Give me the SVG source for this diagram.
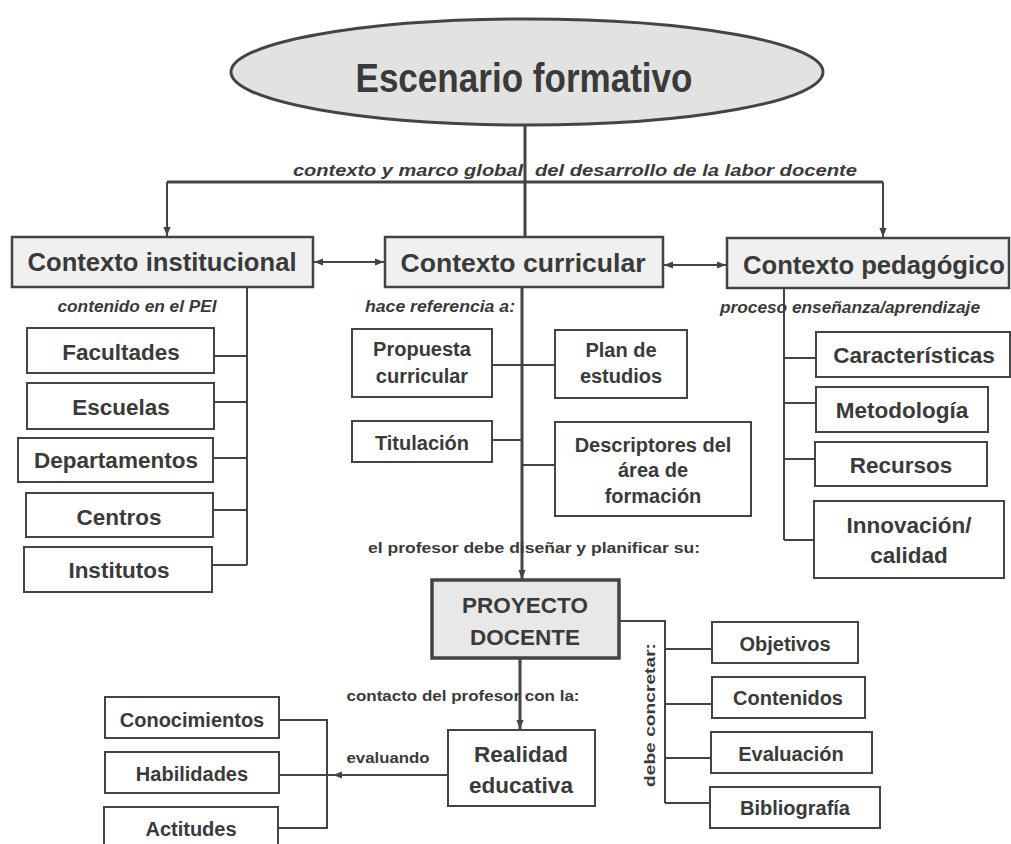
<svg xmlns="http://www.w3.org/2000/svg" width="1011" height="844" viewBox="0 0 1011 844">
<style>
text{font-family:"Liberation Sans",Arial,sans-serif;font-weight:bold;fill:#3a3a3a;text-anchor:middle}
.lbl{font-style:italic;font-size:16px}
.up{font-size:15px}
.box{fill:#ffffff;stroke:#444;stroke-width:2}
.ctx{fill:#f0f0f0;stroke:#444;stroke-width:2.5}
.ctx text{font-size:25px}
.b23{font-size:22.5px}
.b20{font-size:20px}
.ln{fill:none;stroke:#444;stroke-width:2}
.ln3{fill:none;stroke:#444;stroke-width:3}
</style>
<defs>
<marker id="ah" viewBox="0 0 10 10" refX="10" refY="5" markerWidth="9" markerHeight="9" markerUnits="userSpaceOnUse" orient="auto-start-reverse">
<path d="M0,1 L10,5 L0,9 Z" fill="#444"/>
</marker>
</defs>
<rect width="1011" height="844" fill="#ffffff"/>

<g id="connectors">
<path class="ln3" d="M525,126 V237"/>
<path class="ln3" d="M167,182 H883"/>
<path class="ln" d="M167,182 V236" marker-end="url(#ah)"/>
<path class="ln" d="M883,182 V237" marker-end="url(#ah)"/>
<path class="ln" d="M314,262 H384" marker-start="url(#ah)" marker-end="url(#ah)"/>
<path class="ln" d="M664,265 H726" marker-start="url(#ah)" marker-end="url(#ah)"/>
<path class="ln" d="M247,287 V565 M214,356 H247 M214,402 H247 M213,458 H247 M213,510 H247 M212,565 H247"/>
<path class="ln3" d="M522,287 V579" marker-end="url(#ah)"/>
<path class="ln" d="M492,365 H555 M492,440 H522 M522,465 H555"/>
<path class="ln" d="M784,288 V540 M784,358 H816 M784,403 H816 M784,459 H815 M784,540 H814"/>
<path class="ln3" d="M520,659 V729" marker-end="url(#ah)"/>
<path class="ln" d="M620,621 H665 V803 M665,649 H712 M665,704 H712 M665,758 H711 M665,803 H710"/>
<path class="ln" d="M448,775 H333" marker-end="url(#ah)"/>
<path class="ln" d="M279,720 H327 V828 H279 M279,775 H333"/>
</g>

<g id="labels">
<text class="lbl" x="408" y="176" font-size="17" textLength="230" lengthAdjust="spacingAndGlyphs">contexto y marco global</text>
<text class="lbl" x="696" y="176" font-size="17" textLength="322" lengthAdjust="spacingAndGlyphs">del desarrollo de la labor docente</text>
<text class="lbl" x="137" y="312" textLength="159" lengthAdjust="spacingAndGlyphs">contenido en el PEI</text>
<text class="lbl" x="440" y="312" textLength="150" lengthAdjust="spacingAndGlyphs">hace referencia a:</text>
<text class="lbl" x="850" y="313" textLength="260" lengthAdjust="spacingAndGlyphs">proceso enseñanza/aprendizaje</text>
<text class="up" x="534" y="553" textLength="332" lengthAdjust="spacingAndGlyphs">el  profesor debe diseñar y planificar su:</text>
<text class="up" x="463" y="701" textLength="233" lengthAdjust="spacingAndGlyphs">contacto del profesor con la:</text>
<text class="up" x="388" y="763" textLength="83" lengthAdjust="spacingAndGlyphs">evaluando</text>
<text class="up" transform="translate(655,715) rotate(-90)" textLength="144" lengthAdjust="spacingAndGlyphs">debe concretar:</text>
</g>

<g id="escenario">
<ellipse cx="527" cy="72" rx="296" ry="53" fill="#e2e2e2" stroke="#444" stroke-width="3"/>
<text x="524" y="92" font-size="40" textLength="337" lengthAdjust="spacingAndGlyphs">Escenario formativo</text>
</g>

<g id="ctx-institucional" class="ctx">
<rect x="12" y="237" width="301" height="50"/>
<text x="162" y="271" textLength="269" lengthAdjust="spacingAndGlyphs" style="stroke:none">Contexto institucional</text>
</g>
<g id="ctx-curricular" class="ctx">
<rect x="385" y="237" width="278" height="50"/>
<text x="523" y="272" textLength="245" lengthAdjust="spacingAndGlyphs" style="stroke:none">Contexto curricular</text>
</g>
<g id="ctx-pedagogico" class="ctx">
<rect x="727" y="238" width="282" height="50"/>
<text x="874" y="274" textLength="262" lengthAdjust="spacingAndGlyphs" style="stroke:none">Contexto pedagógico</text>
</g>

<g id="facultades"><rect class="box" x="27" y="328" width="187" height="45"/><text class="b23" x="121" y="360">Facultades</text></g>
<g id="escuelas"><rect class="box" x="27" y="383" width="187" height="46"/><text class="b23" x="121" y="415">Escuelas</text></g>
<g id="departamentos"><rect class="box" x="18" y="438" width="195" height="44"/><text class="b23" x="116" y="468">Departamentos</text></g>
<g id="centros"><rect class="box" x="26" y="493" width="187" height="44"/><text class="b23" x="119" y="525">Centros</text></g>
<g id="institutos"><rect class="box" x="24" y="547" width="188" height="45"/><text class="b23" x="119" y="578">Institutos</text></g>

<g id="propuesta"><rect class="box" x="352" y="329" width="140" height="68"/><text class="b20" x="422" y="356">Propuesta</text><text class="b20" x="422" y="383">curricular</text></g>
<g id="plan"><rect class="box" x="555" y="330" width="132" height="68"/><text class="b20" x="621" y="357">Plan de</text><text class="b20" x="621" y="383">estudios</text></g>
<g id="titulacion"><rect class="box" x="352" y="421" width="140" height="41"/><text class="b20" x="422" y="450">Titulación</text></g>
<g id="descriptores"><rect class="box" x="555" y="422" width="196" height="94"/><text class="b20" x="653" y="452">Descriptores del</text><text class="b20" x="653" y="477">área de</text><text class="b20" x="653" y="503">formación</text></g>

<g id="caracteristicas"><rect class="box" x="816" y="332" width="194" height="45"/><text class="b23" x="914" y="363">Características</text></g>
<g id="metodologia"><rect class="box" x="816" y="387" width="172" height="45"/><text class="b23" x="902" y="418">Metodología</text></g>
<g id="recursos"><rect class="box" x="815" y="442" width="172" height="44"/><text class="b23" x="901" y="473">Recursos</text></g>
<g id="innovacion"><rect class="box" x="814" y="501" width="190" height="77"/><text class="b23" x="909" y="533">Innovación/</text><text class="b23" x="909" y="563">calidad</text></g>

<g id="proyecto">
<rect x="432" y="580" width="187" height="78" fill="#e8e8e8" stroke="#444" stroke-width="3.5"/>
<text class="b23" x="525" y="613">PROYECTO</text>
<text class="b23" x="525" y="645">DOCENTE</text>
</g>
<g id="realidad"><rect class="box" x="448" y="730" width="147" height="76"/><text class="b23" x="521" y="762">Realidad</text><text class="b23" x="521" y="793">educativa</text></g>

<g id="conocimientos"><rect class="box" x="105" y="697" width="174" height="41"/><text class="b20" x="192" y="727">Conocimientos</text></g>
<g id="habilidades"><rect class="box" x="105" y="752" width="174" height="41"/><text class="b20" x="192" y="781">Habilidades</text></g>
<g id="actitudes"><rect class="box" x="104" y="807" width="174" height="45"/><text class="b20" x="191" y="836">Actitudes</text></g>

<g id="objetivos"><rect class="box" x="712" y="622" width="146" height="41"/><text class="b20" x="785" y="651">Objetivos</text></g>
<g id="contenidos"><rect class="box" x="712" y="677" width="153" height="41"/><text class="b20" x="788" y="705">Contenidos</text></g>
<g id="evaluacion"><rect class="box" x="711" y="732" width="161" height="41"/><text class="b20" x="791" y="761">Evaluación</text></g>
<g id="bibliografia"><rect class="box" x="710" y="787" width="170" height="41"/><text class="b20" x="795" y="815">Bibliografía</text></g>
</svg>
